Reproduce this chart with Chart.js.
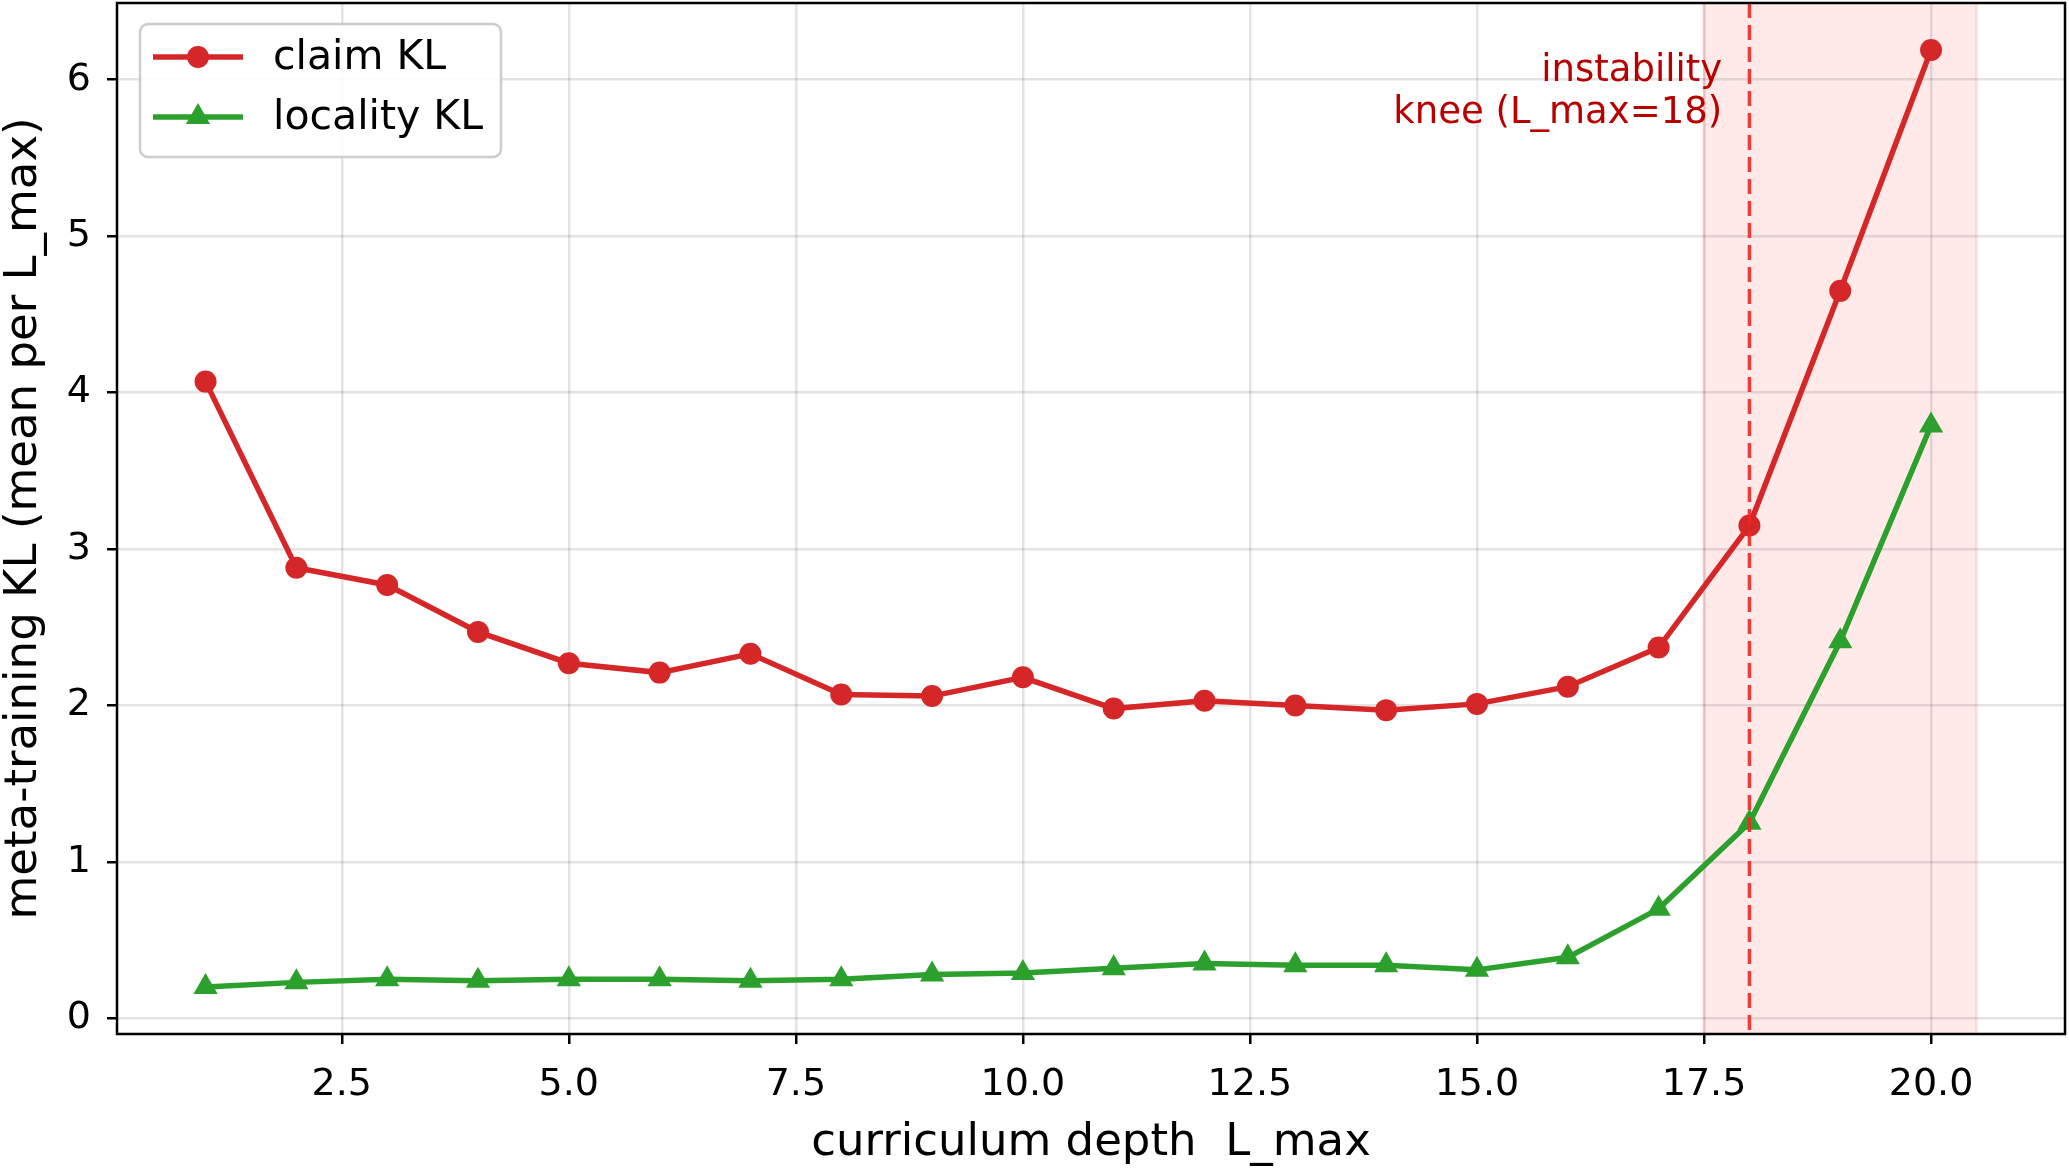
<!DOCTYPE HTML>
<html lang="en-US">

<head>
    <title>Meta-training KL vs curriculum depth</title>
    <meta charset="utf-8" />
    <script src="https://cdn.jsdelivr.net/npm/chart.js@4"></script>
    <style>
        html, body { margin: 0; padding: 0; background: #fff; }
        canvas { display: block; }
    </style>
</head>

<body>
    <canvas id="graph" width="2069" height="1168"></canvas>
    <script>
        // values
        const depths = [1, 2, 3, 4, 5, 6, 7, 8, 9, 10, 11, 12, 13, 14, 15, 16, 17, 18, 19, 20];
        const claimKL = [4.07, 2.88, 2.77, 2.47, 2.27, 2.21, 2.33, 2.07, 2.06, 2.18, 1.98, 2.03, 2.00, 1.97, 2.01, 2.12, 2.37, 3.15, 4.65, 6.19];
        const localityKL = [0.20, 0.23, 0.25, 0.24, 0.25, 0.25, 0.24, 0.25, 0.28, 0.29, 0.32, 0.35, 0.34, 0.34, 0.31, 0.39, 0.70, 1.25, 2.41, 3.79];
        const xTicks = [2.5, 5.0, 7.5, 10.0, 12.5, 15.0, 17.5, 20.0];
        const yTicks = [0, 1, 2, 3, 4, 5, 6];
        const kneeDepth = 18;
        const unstableFrom = 17.5;
        const unstableTo = 20.5;
        const kneeText = ["instability", "knee (L_max=18)"];
        const kneeTextAt = { x: 17.7, y: 5.92 };

        const RED = '#d62728';
        const GREEN = '#2ca02c';

        Chart.defaults.font.family = "'DejaVu Sans', sans-serif";
        Chart.defaults.color = '#000';

        const sx = (c, v) => c.scales.x.getPixelForValue(v);
        const sy = (c, v) => c.scales.y.getPixelForValue(v);

        const decorations = {
            id: 'decorations',
            beforeDraw(chart) {
                // shaded instability band (under the grid, like matplotlib)
                const ctx = chart.ctx, area = chart.chartArea;
                const x0 = sx(chart, unstableFrom), x1 = sx(chart, unstableTo);
                ctx.save();
                ctx.fillStyle = 'rgba(255, 0, 0, 0.085)';
                ctx.fillRect(x0, area.top, x1 - x0, area.bottom - area.top);
                ctx.strokeStyle = 'rgba(255, 0, 0, 0.1)';
                ctx.lineWidth = 3;
                ctx.beginPath();
                ctx.moveTo(x0, area.top); ctx.lineTo(x0, area.bottom);
                ctx.moveTo(x1, area.top); ctx.lineTo(x1, area.bottom);
                ctx.stroke();
                ctx.restore();
            },
            afterDatasetsDraw(chart) {
                const ctx = chart.ctx, area = chart.chartArea;
                ctx.save();

                // knee marker
                const xk = sx(chart, kneeDepth);
                ctx.strokeStyle = 'rgba(240, 40, 40, 0.9)';
                ctx.lineWidth = 3.5;
                ctx.setLineDash([15, 7]);
                ctx.beginPath();
                ctx.moveTo(xk, area.top);
                ctx.lineTo(xk, area.bottom);
                ctx.stroke();
                ctx.setLineDash([]);

                ctx.fillStyle = '#b80000';
                ctx.font = "37px 'DejaVu Sans'";
                ctx.textAlign = 'right';
                ctx.textBaseline = 'middle';
                const tx = sx(chart, kneeTextAt.x), ty = sy(chart, kneeTextAt.y);
                const lh = 42;
                kneeText.forEach((line, i) => {
                    ctx.fillText(line, tx, ty + (i - (kneeText.length - 1) / 2) * lh);
                });

                // axes box
                ctx.strokeStyle = '#000';
                ctx.lineWidth = 2.5;
                ctx.strokeRect(area.left, area.top, area.right - area.left, area.bottom - area.top);

                // legend
                const bx = 140, by = 24, bw = 361, bh = 133;
                ctx.fillStyle = 'rgba(255, 255, 255, 0.85)';
                ctx.strokeStyle = '#cccccc';
                ctx.lineWidth = 2.5;
                ctx.beginPath();
                ctx.roundRect(bx, by, bw, bh, 8);
                ctx.fill();
                ctx.stroke();

                ctx.font = "41px 'DejaVu Sans'";
                ctx.textAlign = 'left';
                ctx.textBaseline = 'middle';
                chart.data.datasets.forEach((ds, i) => {
                    const rowY = 57 + i * 60;
                    ctx.strokeStyle = ds.borderColor;
                    ctx.lineWidth = ds.borderWidth;
                    ctx.beginPath();
                    ctx.moveTo(153, rowY);
                    ctx.lineTo(243, rowY);
                    ctx.stroke();
                    ctx.fillStyle = ds.backgroundColor;
                    ctx.beginPath();
                    const r = ds.pointRadius;
                    if (ds.pointStyle === 'circle') {
                        ctx.arc(198, rowY, r, 0, Math.PI * 2);
                    } else {
                        ctx.moveTo(198, rowY - r);
                        ctx.lineTo(198 + r * 0.866, rowY + r * 0.5);
                        ctx.lineTo(198 - r * 0.866, rowY + r * 0.5);
                        ctx.closePath();
                    }
                    ctx.fill();
                    ctx.fillStyle = '#000';
                    ctx.fillText(ds.label, 273, rowY + 1);
                });

                ctx.restore();
            }
        };

        const gridOpts = {
            color: 'rgba(0, 0, 0, 0.11)',
            lineWidth: 2.5,
            tickColor: '#000',
            tickWidth: 2.5,
            tickLength: 10
        };

        const graph = new Chart(document.getElementById('graph').getContext('2d'), {
            type: 'line',
            data: {
                datasets: [{
                    label: 'claim KL',
                    data: depths.map((d, i) => ({ x: d, y: claimKL[i] })),
                    borderColor: RED,
                    backgroundColor: RED,
                    borderWidth: 5.5,
                    pointStyle: 'circle',
                    pointRadius: 11,
                    pointBorderWidth: 0,
                    pointBackgroundColor: RED,
                    tension: 0
                }, {
                    label: 'locality KL',
                    data: depths.map((d, i) => ({ x: d, y: localityKL[i] })),
                    borderColor: GREEN,
                    backgroundColor: GREEN,
                    borderWidth: 5.5,
                    pointStyle: 'triangle',
                    pointRadius: 14,
                    pointBorderWidth: 0,
                    pointBackgroundColor: GREEN,
                    tension: 0
                }]
            },
            options: {
                responsive: false,
                animation: false,
                layout: { autoPadding: false, padding: { top: 3, right: 4, left: 0, bottom: 0 } },
                plugins: {
                    legend: { display: false },
                    tooltip: { enabled: false }
                },
                scales: {
                    x: {
                        type: 'linear',
                        min: 0.025,
                        max: 21.475,
                        afterBuildTicks: (scale) => { scale.ticks = xTicks.map(v => ({ value: v })); },
                        afterFit: (scale) => {
                            scale.height = 134;
                            scale.paddingLeft = 0;
                            scale.paddingRight = 0;
                        },
                        ticks: {
                            font: { size: 38 },
                            padding: 18,
                            maxRotation: 0,
                            autoSkip: false,
                            callback: (v) => Number(v).toFixed(1)
                        },
                        grid: gridOpts,
                        border: { display: false },
                        title: {
                            display: true,
                            text: 'curriculum depth  L_max',
                            font: { size: 45, lineHeight: 1.1 },
                            padding: 0
                        }
                    },
                    y: {
                        type: 'linear',
                        min: -0.1,
                        max: 6.49,
                        afterBuildTicks: (scale) => { scale.ticks = yTicks.map(v => ({ value: v })); },
                        afterFit: (scale) => {
                            scale.width = 117;
                            scale.paddingTop = 0;
                            scale.paddingBottom = 0;
                        },
                        ticks: {
                            font: { size: 38 },
                            padding: 16,
                            autoSkip: false,
                            callback: (v) => String(v)
                        },
                        grid: gridOpts,
                        border: { display: false },
                        title: {
                            display: true,
                            text: 'meta-training KL (mean per L_max)',
                            font: { size: 45, lineHeight: 1.07 },
                            padding: 0
                        }
                    }
                }
            },
            plugins: [decorations]
        });
    </script>
</body>

</html>
